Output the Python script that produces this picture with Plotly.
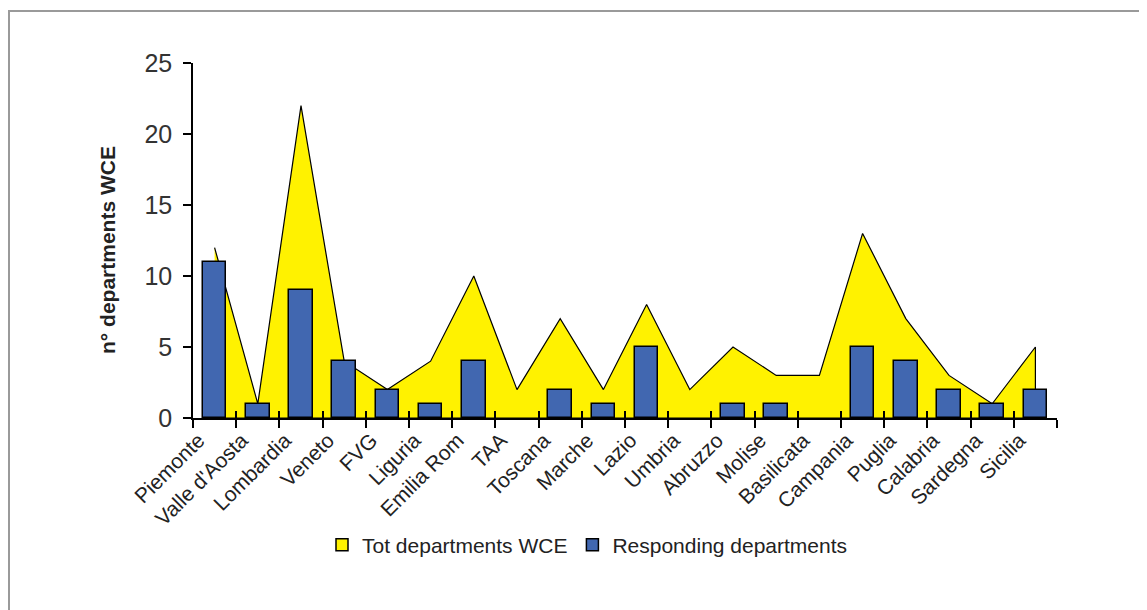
import plotly.graph_objects as go

# ---- data ----
regions = ["Piemonte", "Valle d'Aosta", "Lombardia", "Veneto", "FVG", "Liguria",
           "Emilia Rom", "TAA", "Toscana", "Marche", "Lazio", "Umbria", "Abruzzo",
           "Molise", "Basilicata", "Campania", "Puglia", "Calabria", "Sardegna", "Sicilia"]
tot_departments = [12, 1, 22, 4, 2, 4, 10, 2, 7, 2, 8, 2, 5, 3, 3, 13, 7, 3, 1, 5]
responding = [11, 1, 9, 4, 2, 1, 4, 0, 2, 1, 5, 0, 1, 1, 0, 5, 4, 2, 1, 2]
series_names = ["Tot departments WCE", "Responding departments"]
y_title = "n° departments WCE"

YELLOW = "#FFF200"
BLUE = "#4167B0"
FONT = "Liberation Sans, Arial, sans-serif"

BODY = 8  # browser default body margin
W, H = 1147 - BODY, 610 - BODY
# plot area in page pixels: x 193..1057, y 63..418
ML = 193 - BODY
MT = 63 - BODY
PW, PH = 864, 355
MR = W - ML - PW
MB = H - MT - PH

def px_to_paper_x(px):
    return (px - BODY - ML) / PW

def px_to_paper_y(py):
    return (MT + PH - (py - BODY)) / PH

n = len(regions)

fig = go.Figure()

# area (closed polygon so the outline includes the vertical ends)
fig.add_trace(go.Scatter(
    x=regions + [regions[-1], regions[0]],
    y=tot_departments + [0, 0],
    mode="lines",
    fill="toself",
    fillcolor=YELLOW,
    line=dict(color="black", width=1.2),
    showlegend=False,
    hoverinfo="skip",
    xaxis="x", yaxis="y",
))

# bars on an overlaying axis so they are drawn above the area
fig.add_trace(go.Bar(
    x=regions,
    y=responding,
    width=0.55,
    marker=dict(color=BLUE,
                line=dict(color="black", width=[1.5 if v > 0 else 0 for v in responding])),
    showlegend=False,
    xaxis="x2", yaxis="y",
))

# legend entries
fig.add_trace(go.Scatter(
    x=[None], y=[None], mode="markers", name=series_names[0],
    marker=dict(symbol="square", size=12, color=YELLOW, line=dict(color="black", width=1.5)),
))
fig.add_trace(go.Scatter(
    x=[None], y=[None], mode="markers", name=series_names[1],
    marker=dict(symbol="square", size=12, color=BLUE, line=dict(color="black", width=1.5)),
))

fig.update_layout(
    width=W, height=H,
    margin=dict(l=ML, r=MR, t=MT, b=MB, pad=0),
    paper_bgcolor="white",
    plot_bgcolor="white",
    font=dict(family=FONT, color="black"),
    bargap=0,
    xaxis=dict(
        type="category",
        categoryorder="array",
        categoryarray=regions,
        range=[-0.5, n - 0.5],
        showline=True, linecolor="black", linewidth=1.5,
        ticks="outside", ticklen=8, tickwidth=1.5, tickcolor="black",
        tickson="boundaries",
        tickangle=-45,
        tickfont=dict(size=21, family=FONT, color="#222"),
        ticklabelshift=-16,
        ticklabelstandoff=0,
        showgrid=False, zeroline=False,
    ),
    xaxis2=dict(
        overlaying="x", anchor="y", type="category",
        categoryorder="array", categoryarray=regions,
        range=[-0.5, n - 0.5],
        ticks="inside", ticklen=7, tickwidth=1.5, tickcolor="black",
        tickson="boundaries",
        showticklabels=False, showline=False, showgrid=False, zeroline=False,
    ),
    yaxis=dict(
        range=[0, 25], dtick=5,
        showline=True, linecolor="black", linewidth=1.5,
        ticks="outside", ticklen=8, tickwidth=1.5, tickcolor="black",
        tickfont=dict(size=25, family=FONT, color="#333"),
        ticklabelstandoff=6,
        showgrid=False, zeroline=False,
    ),
    legend=dict(
        orientation="h",
        x=px_to_paper_x(322), xanchor="left",
        y=px_to_paper_y(545), yanchor="middle",
        font=dict(size=21, family=FONT, color="#222"),
        bgcolor="rgba(0,0,0,0)",
        itemwidth=30,
        tracegroupgap=0,
    ),
    annotations=[dict(
        text=f"<b>{y_title}</b>",
        xref="paper", yref="paper",
        x=px_to_paper_x(107), y=px_to_paper_y(250),
        xanchor="center", yanchor="middle",
        textangle=-90, showarrow=False,
        font=dict(size=21, family=FONT, color="#222"),
    )],
    shapes=[dict(
        type="rect", xref="paper", yref="paper",
        x0=px_to_paper_x(9), x1=px_to_paper_x(1147 + 10),
        y0=px_to_paper_y(610 + 10), y1=px_to_paper_y(11),
        line=dict(color="#9a9a9a", width=2), fillcolor="rgba(0,0,0,0)",
        layer="below",
    )],
)

fig.write_html("out.html")
